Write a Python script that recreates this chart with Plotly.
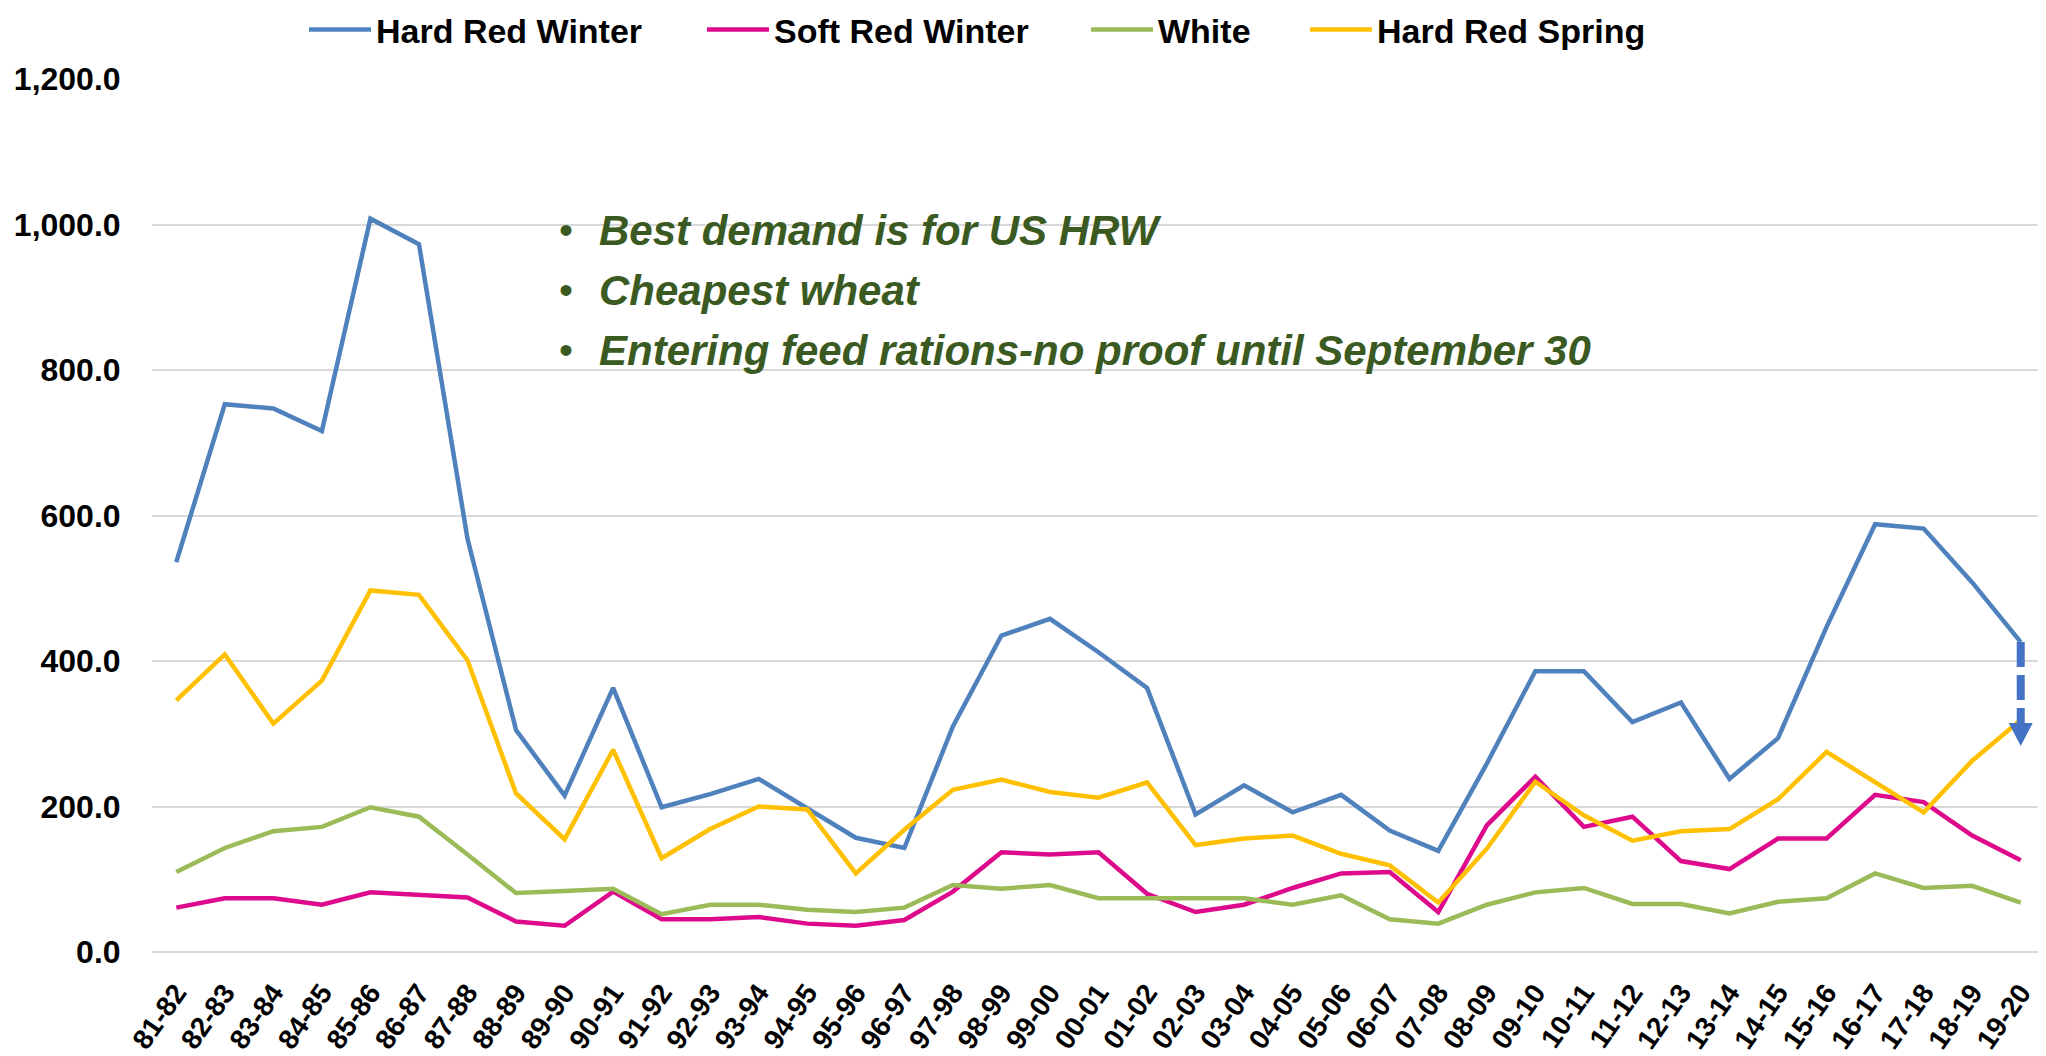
import plotly.graph_objects as go

categories = ["81-82", "82-83", "83-84", "84-85", "85-86", "86-87", "87-88", "88-89", "89-90",
              "90-91", "91-92", "92-93", "93-94", "94-95", "95-96", "96-97", "97-98", "98-99",
              "99-00", "00-01", "01-02", "02-03", "03-04", "04-05", "05-06", "06-07", "07-08",
              "08-09", "09-10", "10-11", "11-12", "12-13", "13-14", "14-15", "15-16", "16-17",
              "17-18", "18-19", "19-20"]

hard_red_winter = [536, 753, 747, 716, 1008, 973, 568, 305, 215, 363, 199, 217, 238, 198, 157, 143,
                   310, 435, 458, 412, 363, 189, 229, 192, 216, 167, 139, 259, 386, 386, 316, 343,
                   238, 294, 447, 588, 582, 508, 426]
soft_red_winter = [61, 74, 74, 65, 82, 78, 75, 42, 36, 83, 45, 45, 48, 39, 36, 44, 83, 137, 134, 137,
                   80, 55, 65, 88, 108, 110, 55, 174, 241, 172, 186, 125, 114, 156, 156, 216, 206,
                   160, 126]
white = [110, 143, 166, 172, 199, 186, 134, 81, 84, 87, 52, 65, 65, 58, 55, 61, 92, 87, 92, 74, 74,
         74, 74, 65, 78, 45, 39, 65, 82, 88, 66, 66, 53, 69, 74, 108, 88, 91, 68]
hard_red_spring = [346, 409, 314, 373, 497, 491, 401, 218, 155, 278, 129, 169, 200, 196, 108, 168,
                   223, 237, 220, 212, 233, 147, 156, 160, 135, 119, 68, 142, 234, 188, 153, 166,
                   169, 210, 275, 234, 192, 263, 319]

series_names = ["Hard Red Winter", "Soft Red Winter", "White", "Hard Red Spring"]
series_colors = ["#4F81BD", "#DE0A8C", "#9BBB59", "#FFC000"]

notes = ["Best demand is for US HRW", "Cheapest wheat",
         "Entering feed rations-no proof until September 30"]
arrow_tip_value = 283

y_ticks = [0, 200, 400, 600, 800, 1000, 1200]

# page body has an 8px margin: figure coords = screen coords - 8
OFF = 8
W, H = 2046 - OFF, 1056 - OFF
ML, MR, MT, MB = 152 - OFF, 1, 79 - OFF, 104
PW, PH = W - ML - MR, H - MT - MB

def px_x(p):  # screen pixel -> paper fraction
    return (p - OFF - ML) / PW

def px_y(p):
    return (H - MB - (p - OFF)) / PH

FONT = "Liberation Sans, Arial, sans-serif"
GREEN = "#3B5A22"

legend_ids = ["legend", "legend2", "legend3", "legend4"]
legend_line_px = [310, 708, 1092, 1311]   # screen x where each legend sample starts

fig = go.Figure()
for name, vals, col, lid in zip(series_names,
                                [hard_red_winter, soft_red_winter, white, hard_red_spring],
                                series_colors, legend_ids):
    fig.add_trace(go.Scatter(x=categories, y=vals, mode="lines", name=name, legend=lid,
                             line=dict(color=col, width=4.5)))

# white box behind the notes
fig.add_shape(type="rect", xref="paper", yref="paper",
              x0=px_x(559), x1=px_x(1669), y0=px_y(392), y1=px_y(196),
              fillcolor="white", line=dict(width=0), layer="between")

centers = [230, 290, 350]
for txt, cy in zip(notes, centers):
    fig.add_annotation(xref="paper", yref="paper", x=px_x(566), y=px_y(cy),
                       text="•", showarrow=False, xanchor="center", yanchor="middle",
                       font=dict(family=FONT, size=40, color=GREEN))
    fig.add_annotation(xref="paper", yref="paper", x=px_x(597), y=px_y(cy),
                       text="<b><i>" + txt + "</i></b>", showarrow=False,
                       xanchor="left", yanchor="middle",
                       font=dict(family=FONT, size=42, color=GREEN))

# dashed arrow at the last HRW point
last_idx = len(categories) - 1
head_px = 23
fig.add_shape(type="line", xref="x", yref="y",
              x0=last_idx, x1=last_idx,
              y0=hard_red_winter[-1], y1=arrow_tip_value + 31,
              line=dict(color="#4472C4", width=8, dash="25px,8px"))
fig.add_shape(type="path", xref="x", yref="y",
              xsizemode="pixel", ysizemode="pixel",
              xanchor=last_idx, yanchor=arrow_tip_value,
              path=f"M 0 0 L -12 {head_px} L 12 {head_px} Z",
              fillcolor="#4472C4", line=dict(width=0))

legend_style = dict(orientation="h", xref="container", yref="container",
                    xanchor="left", yanchor="middle",
                    font=dict(family=FONT, size=34, color="black", weight="bold"),
                    itemwidth=62, bgcolor="rgba(0,0,0,0)")
legends = {}
for lid, lx in zip(legend_ids, legend_line_px):
    legends[lid] = dict(legend_style, x=(lx - OFF - 6) / W, y=1 - (30 - OFF) / H)

fig.update_layout(
    width=W, height=H,
    margin=dict(l=ML, r=MR, t=MT, b=MB, pad=0, autoexpand=False),
    paper_bgcolor="white", plot_bgcolor="white",
    font=dict(family=FONT, color="black"),
    showlegend=True,
    xaxis=dict(type="category", categoryorder="array", categoryarray=categories,
               range=[-0.5, len(categories) - 0.5], automargin=False,
               showgrid=False, zeroline=False, showline=False,
               ticks="outside", ticklen=12, tickcolor="rgba(0,0,0,0)",
               tickangle=-55,
               tickfont=dict(family=FONT, size=28, color="black", weight="bold")),
    yaxis=dict(range=[0, 1200], tickvals=y_ticks, tickformat=",.1f", automargin=False,
               showgrid=True, gridcolor="#D9D9D9", gridwidth=2,
               zeroline=True, zerolinecolor="#D9D9D9", zerolinewidth=2,
               showline=False, ticks="outside", ticklen=24, tickcolor="rgba(0,0,0,0)",
               tickfont=dict(family=FONT, size=32, color="black", weight="bold")),
    **legends,
)

fig.write_html("out.html")
